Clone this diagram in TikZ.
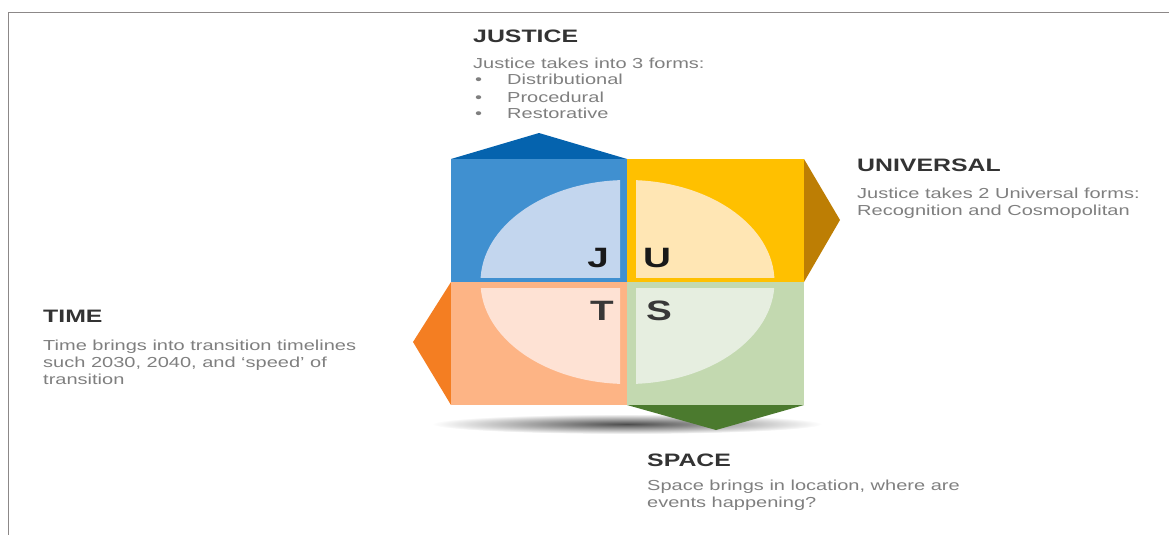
\documentclass[tikz,border=0pt]{standalone}
\usepackage{fontspec}
\setmainfont[FakeStretch=1.38]{Liberation Sans}
\definecolor{framegray}{HTML}{8C8888}
\definecolor{titlegray}{HTML}{333333}
\definecolor{bodygray}{HTML}{7F7F7F}
\definecolor{jblue}{HTML}{4090D0}
\definecolor{jbluein}{HTML}{C3D6EE}
\definecolor{jbluecap}{HTML}{0563AE}
\definecolor{uyel}{HTML}{FFC000}
\definecolor{uyelin}{HTML}{FFE6B4}
\definecolor{uyelcap}{HTML}{BD7E04}
\definecolor{tora}{HTML}{FDB485}
\definecolor{torain}{HTML}{FEE2D4}
\definecolor{toracap}{HTML}{F47E22}
\definecolor{sgrn}{HTML}{C3D9B0}
\definecolor{sgrnin}{HTML}{E6EEE0}
\definecolor{sgrncap}{HTML}{4B7A2E}
\newcommand{\bul}{\makebox[34pt][l]{\hspace{2pt}\textbullet}}
\begin{document}
\begin{tikzpicture}[x=1pt,y=-1pt,
  title/.style={anchor=base west, inner sep=0pt, text=titlegray,
    font=\fontsize{18}{20}\selectfont\bfseries},
  body/.style={anchor=base west, inner sep=0pt, text=bodygray,
    font=\fontsize{14.5}{17}\selectfont},
  letter/.style={inner sep=0pt, font=\fontsize{28}{30}\selectfont\bfseries}]
\useasboundingbox (0,0) rectangle (1169,535);
% page frame
\draw[framegray, line width=1.5pt] (1169,12.5) -- (8.5,12.5) -- (8.5,535);
% soft floor shadow
\shade[inner color=black!70, outer color=white] (627,424) ellipse [x radius=195, y radius=10];
% side faces
\fill[jbluecap] (451,159) -- (539,133) -- (627,159) -- cycle;
\fill[uyelcap] (804,159) -- (840,220) -- (804,282) -- cycle;
\fill[toracap] (451,282) -- (413,342) -- (451,405) -- cycle;
\fill[sgrncap] (627,405) -- (716,430) -- (804,405) -- cycle;
% quadrants
\fill[jblue] (451,159) rectangle (627,282);
\fill[uyel] (627,159) rectangle (804,282);
\fill[tora] (451,282) rectangle (627,405);
\fill[sgrn] (627,282) rectangle (804,405);
% inner oval, split into four pieces
\begin{scope}
  \clip (451,159) rectangle (620,277);
  \fill[jbluein] (627.5,282) ellipse [x radius=147, y radius=102];
\end{scope}
\begin{scope}
  \clip (636,159) rectangle (804,277);
  \fill[uyelin] (627.5,282) ellipse [x radius=147, y radius=102];
\end{scope}
\begin{scope}
  \clip (451,288) rectangle (620,405);
  \fill[torain] (627.5,282) ellipse [x radius=147, y radius=102];
\end{scope}
\begin{scope}
  \clip (636,288) rectangle (804,405);
  \fill[sgrnin] (627.5,282) ellipse [x radius=147, y radius=102];
\end{scope}
% initials
\node[letter, anchor=base east, text=black!90] (lj) at (609,267) {J};
\node[letter, anchor=base west, text=black!90] (lu) at (643,267) {U};
\node[letter, anchor=base east, text=black!78] (lt) at (614,320) {T};
\node[letter, anchor=base west, text=black!78] (ls) at (646,320) {S};
% captions
\node[title] (jt) at (473,42) {JUSTICE};
\node[body] (jb) at (473,68) {\begin{tabular}[t]{@{}l@{}}Justice takes into 3 forms:\\
  \bul Distributional\\ \bul Procedural\\ \bul Restorative\end{tabular}};
\node[title] (ut) at (857,171) {UNIVERSAL};
\node[body] (ub) at (857,198) {\begin{tabular}[t]{@{}l@{}}Justice takes 2 Universal forms:\\
  Recognition and Cosmopolitan\end{tabular}};
\node[title] (tt) at (43,322) {TIME};
\node[body] (tb) at (43,350) {\begin{tabular}[t]{@{}l@{}}Time brings into transition timelines\\
  such 2030, 2040, and ‘speed’ of\\ transition\end{tabular}};
\node[title] (st) at (647,466) {SPACE};
\node[body] (sb) at (647,490) {\begin{tabular}[t]{@{}l@{}}Space brings in location, where are\\
  events happening?\end{tabular}};
\end{tikzpicture}
\end{document}
